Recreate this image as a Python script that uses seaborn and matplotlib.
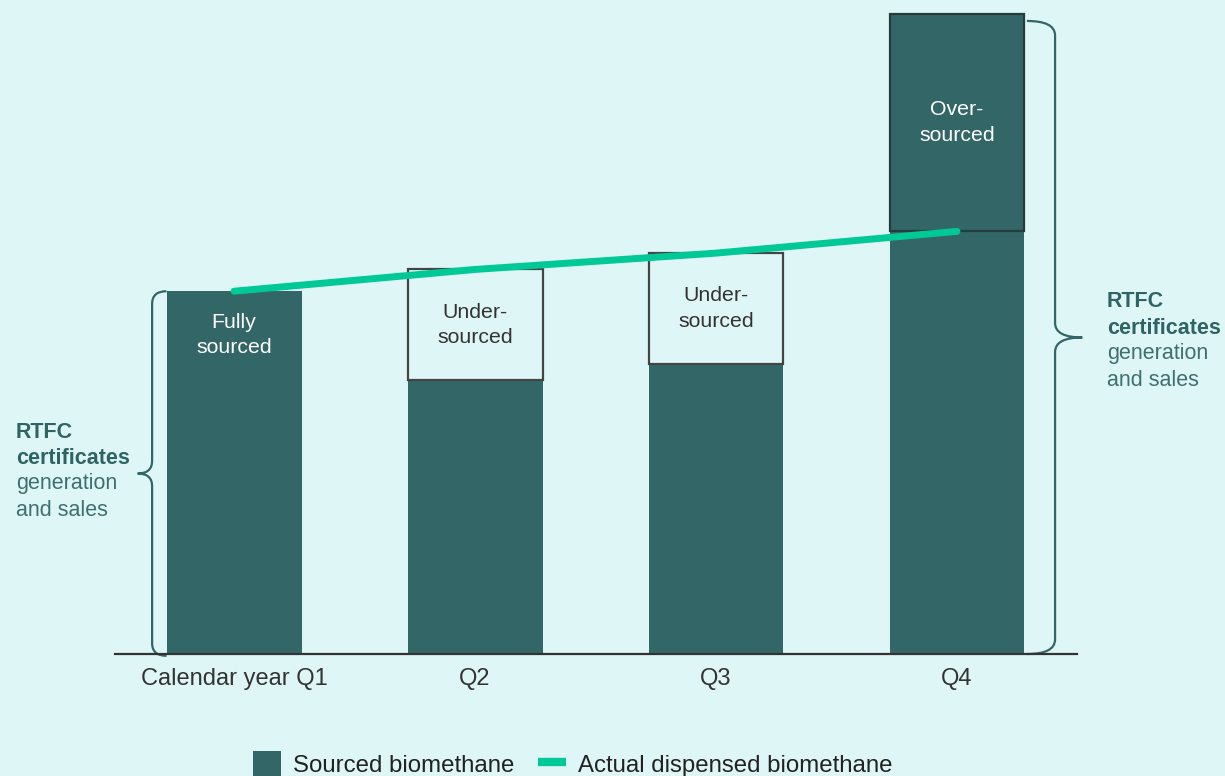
import numpy as np
import pandas as pd
import seaborn as sns
import matplotlib.pyplot as plt
from matplotlib.path import Path
from matplotlib.patches import PathPatch, Patch
from matplotlib.lines import Line2D

quarters = ['Calendar year Q1', 'Q2', 'Q3', 'Q4']
sourced = [100, 75.5, 80, 176.5]
actual = [100, 106, 110.5, 116.5]
bar_labels = ['Fully\nsourced', 'Under-\nsourced', 'Under-\nsourced', 'Over-\nsourced']
label_colors = ['white', '#333333', '#333333', 'white']

BG = '#dff6f7'
BAR = '#336666'
GREEN = '#00c896'
TEAL_TXT = '#2f6464'


def brace(ax, x, x_arm, x_tip, y0, y1, r):
    ym = (y0 + y1) / 2
    verts = [(x_arm, y1), (x, y1), (x, y1 - r),
             (x, ym + r), (x, ym), (x_tip, ym),
             (x, ym), (x, ym - r),
             (x, y0 + r), (x, y0), (x_arm, y0)]
    codes = [Path.MOVETO, Path.CURVE3, Path.CURVE3,
             Path.LINETO, Path.CURVE3, Path.CURVE3,
             Path.CURVE3, Path.CURVE3,
             Path.LINETO, Path.CURVE3, Path.CURVE3]
    ax.add_patch(PathPatch(Path(verts, codes), facecolor='none', edgecolor=BAR,
                           lw=1.6, clip_on=False, zorder=1))


df = pd.DataFrame({'quarter': quarters, 'sourced': sourced, 'actual': actual})

sns.set_style('white', rc={'axes.facecolor': BG, 'figure.facecolor': BG})
plt.rcParams['font.family'] = ['Liberation Sans', 'DejaVu Sans']

fig = plt.figure(figsize=(12.25, 7.76), dpi=100)
ax = fig.add_axes([115 / 1225, 122 / 776, 962 / 1225, 653 / 776])

sns.barplot(data=df, x='quarter', y='sourced', color=BAR, saturation=1,
            width=0.56, ax=ax, zorder=2, edgecolor='none', linewidth=0)

# gap boxes between sourced and actual
for i, (s, a) in enumerate(zip(sourced, actual)):
    if a - s > 0.5:
        ax.bar(i, a - s, bottom=s, width=0.56, facecolor=BG, edgecolor='#444444',
               lw=1.6, zorder=3)
    elif s - a > 0.5:
        ax.bar(i, s - a, bottom=a, width=0.56, facecolor=BAR, edgecolor='#263b3b',
               lw=1.6, zorder=3)

sns.lineplot(x=np.arange(len(actual)), y=actual, color=GREEN, lw=5,
             solid_capstyle='round', ax=ax, zorder=5, legend=False)

for i, (s, a) in enumerate(zip(sourced, actual)):
    if abs(a - s) > 0.5:
        ymid = (s + a) / 2
    else:
        ymid = s - 12
    ax.text(i, ymid, bar_labels[i], ha='center', va='center', fontsize=15.3,
            color=label_colors[i], linespacing=1.42, zorder=6)

ax.set_xlim(-0.494, 3.498)
ax.set_ylim(0, 180)
ax.set_xlabel('')
ax.set_ylabel('')
ax.set_yticks([])
ax.tick_params(axis='x', length=0, pad=10, labelsize=17, labelcolor='#333333')
for side in ['top', 'left', 'right']:
    ax.spines[side].set_visible(False)
ax.spines['bottom'].set_color('#333333')
ax.spines['bottom'].set_linewidth(1.6)

# braces
brace(ax, -0.34, -0.28, -0.40, -0.5, sourced[0], 3.5)
brace(ax, 3.407, 3.29, 3.52, 0, sourced[3] - 2, 4)

for x0, y_first in [(16, 432), (1107, 302)]:
    lines = [('RTFC', 'bold', TEAL_TXT), ('certificates', 'bold', TEAL_TXT),
             ('generation', 'normal', '#3f7070'), ('and sales', 'normal', '#3f7070')]
    for k, (t, w, c) in enumerate(lines):
        fig.text(x0 / 1225, 1 - (y_first + 26 * k) / 776, t, fontsize=15.5,
                 fontweight=w, color=c, ha='left', va='center')

handles = [Patch(facecolor=BAR, edgecolor='none', label='Sourced biomethane'),
           Line2D([], [], color=GREEN, lw=6, solid_capstyle='butt',
                  label='Actual dispensed biomethane')]
fig.legend(handles=handles, loc='center', bbox_to_anchor=(573 / 1225, 12 / 776),
           ncol=2, frameon=False, fontsize=17.3, handlelength=1.15, handleheight=1.25,
           handletextpad=0.5, columnspacing=1.0, labelcolor='#222222')

fig.savefig('out.png', dpi=100, facecolor=BG)
